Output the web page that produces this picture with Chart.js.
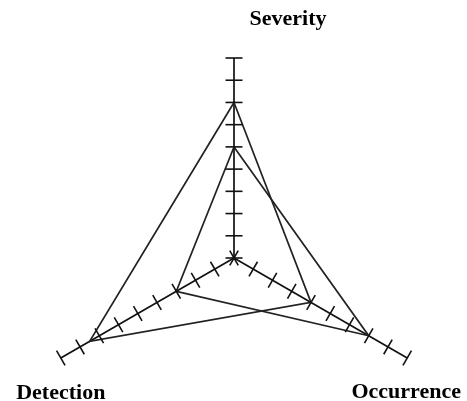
<!DOCTYPE html>
<html>
<head>
<meta charset="utf-8">
<script src="https://cdn.jsdelivr.net/npm/chart.js@4"></script>
<style>
	html, body { margin: 0; padding: 0; background: #fff; overflow: hidden; width: 467px; height: 401px; }
	#box { width: 467px; height: 460px; }
</style>
</head>
<body>
<div id="box"><canvas id="radar"></canvas></div>
<script>
// axes of the chart
const ejes = ['Severity', 'Occurrence', 'Detection'];
// two risk profiles
const perfilA = [7, 4, 7.5];
const perfilB = [5, 7, 3];
// tick marks on every axis
const marcas = [0, 1, 2, 3, 4, 5, 6, 7, 8, 9];

// ticks crossing each axis + bold labels under / above the ends
const ejesPlugin = {
	id: 'ejes',
	afterDatasetsDraw(chart){
		let r = chart.scales.r;
		let ctx = chart.ctx;
		ctx.save();
		ctx.strokeStyle = '#111';
		ctx.lineWidth = 1.6;
		for (let i = 0; i < ejes.length; i++) {
			let ang = r.getIndexAngle(i) - Math.PI / 2;
			let px = -Math.sin(ang) * 8.5, py = Math.cos(ang) * 8.5;
			marcas.forEach(function(v){
				let p = r.getPointPositionForValue(i, v);
				ctx.beginPath();
				ctx.moveTo(p.x - px, p.y - py);
				ctx.lineTo(p.x + px, p.y + py);
				ctx.stroke();
			});
		}
		ctx.fillStyle = '#000';
		ctx.font = 'bold 22px "Liberation Serif", "Times New Roman", serif';
		ctx.textAlign = 'center';
		ctx.textBaseline = 'alphabetic';
		let desp = [[54, -33], [-1, 40], [0, 41]];
		for (let i = 0; i < ejes.length; i++) {
			let fin = r.getPointPositionForValue(i, marcas[marcas.length - 1]);
			ctx.fillText(ejes[i], fin.x + desp[i][0], fin.y + desp[i][1]);
		}
		ctx.restore();
	}
};

let ctx = document.getElementById('radar').getContext('2d');

new Chart(ctx, {
	type: 'radar',
	data: {
		labels: ejes,
		datasets: [{
			label: 'A',
			data: perfilA,
			borderColor: '#222',
			borderWidth: 1.7,
			fill: false,
			pointRadius: 0
		},
		{
			label: 'B',
			data: perfilB,
			borderColor: '#222',
			borderWidth: 1.7,
			fill: false,
			pointRadius: 0
		}]
	},
	options: {
		responsive: true,
		maintainAspectRatio: false,
		animation: false,
		layout: {
			padding: { left: 34, right: 33, top: 58, bottom: 2 }
		},
		plugins: {
			legend: { display: false },
			tooltip: { enabled: false }
		},
		elements: {
			line: { tension: 0 }
		},
		scales: {
			r: {
				min: 0,
				max: 9,
				ticks: { display: false, stepSize: 1 },
				grid: { display: false },
				angleLines: {
					display: true,
					color: '#111',
					lineWidth: 1.7
				},
				pointLabels: { display: false }
			}
		}
	},
	plugins: [ejesPlugin]
});
</script>
</body>
</html>
